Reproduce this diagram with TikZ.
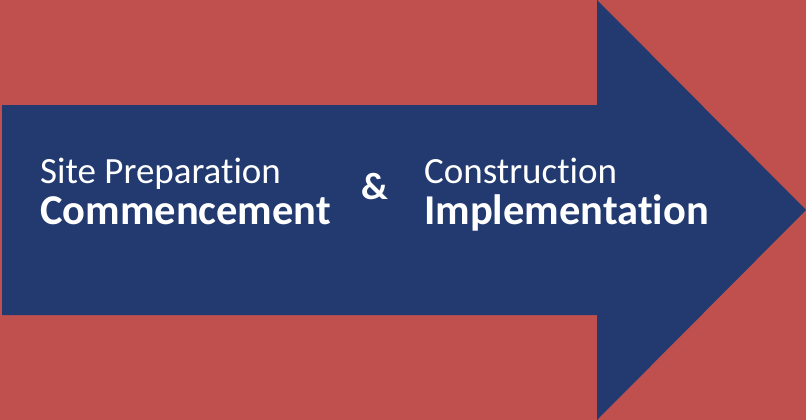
\documentclass[tikz,border=0pt]{standalone}
\usepackage{fontspec}
\setmainfont{Carlito}[Ligatures=NoCommon]
\definecolor{bgred}{HTML}{C0504D}
\definecolor{arrowblue}{HTML}{223A70}
\begin{document}
\begin{tikzpicture}[x=1pt, y=-1pt]
\fill[bgred] (0, 0) rectangle (806, 420);

\fill[arrowblue] (2, 105) -- (597, 105) -- (597, 0) -- (806, 210)
  -- (597, 420) -- (597, 315) -- (2, 315) -- cycle;

\node[anchor=base west, inner sep=0pt, text=white, font=\fontsize{37}{37}\selectfont] (prep) at (40, 183) {Site Preparation};
\node[anchor=base west, inner sep=0pt, text=white, font=\fontsize{42.5}{42.5}\selectfont\bfseries] (comm) at (40, 224) {Commencement};
\node[anchor=base west, inner sep=0pt, text=white, font=\fontsize{38}{38}\selectfont\bfseries] (amp) at (361, 199) {\&};
\node[anchor=base west, inner sep=0pt, text=white, font=\fontsize{37}{37}\selectfont] (cons) at (424, 183) {Construction};
\node[anchor=base west, inner sep=0pt, text=white, font=\fontsize{42.5}{42.5}\selectfont\bfseries] (impl) at (424, 224) {Implementation};

\end{tikzpicture}
\end{document}
